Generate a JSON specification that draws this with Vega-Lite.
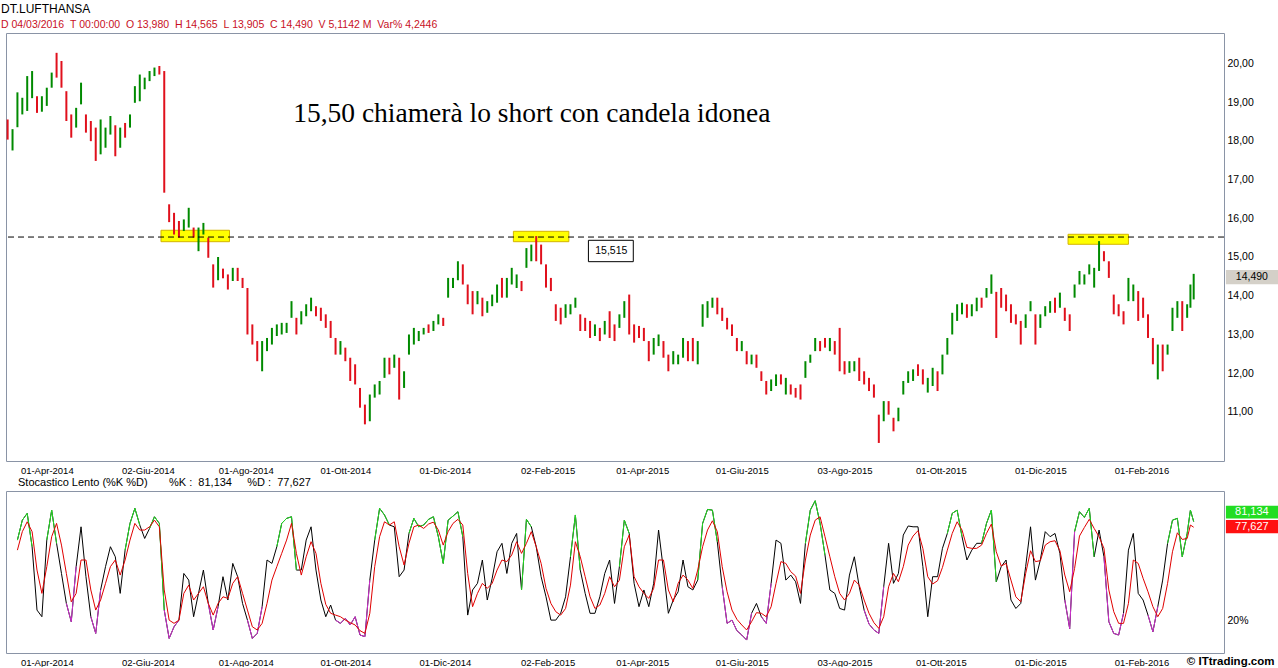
{
"$schema":"https://vega.github.io/schema/vega-lite/v6.json",
"background":"white",
"padding":{"left":1,"top":3,"right":0,"bottom":0},
"config":{"font":"Liberation Sans","view":{"stroke":"#8a94a6","strokeWidth":1},"axis":{"domain":false,"ticks":false,"grid":false,"labelColor":"#000","labelFont":"Liberation Sans"}},
"title":{"text":"DT.LUFTHANSA","subtitle":"D\u00a004/03/2016\u00a0\u00a0T\u00a000:00:00\u00a0\u00a0O\u00a013,980\u00a0\u00a0H\u00a014,565\u00a0\u00a0L\u00a013,905\u00a0\u00a0C\u00a014,490\u00a0\u00a0V\u00a05,1142\u00a0M\u00a0\u00a0Var%\u00a04,2446","anchor":"start","dx":-4,"font":"Liberation Sans","fontSize":12,"fontWeight":"normal","color":"#000","subtitleFont":"Liberation Sans","subtitleFontSize":10.5,"subtitleColor":"#c8101e","subtitlePadding":4,"offset":1},
"datasets":{
"zones":[{"d1":"2014-06-10","d2":"2014-07-22","p1":15.395,"p2":15.69},{"d1":"2015-01-12","d2":"2015-02-15","p1":15.395,"p2":15.663},{"d1":"2015-12-18","d2":"2016-01-24","p1":15.328,"p2":15.586}],
"bars":[
{"date":"2014-03-08","o":18.5,"h":18.55,"l":18.03,"c":18.13},
{"date":"2014-03-11","o":17.85,"h":18.3,"l":17.75,"c":18.25},
{"date":"2014-03-14","o":18.45,"h":19.25,"l":18.35,"c":19.2,"k":69.7,"d":63.5},
{"date":"2014-03-17","o":18.78,"h":19.11,"l":18.68,"c":19.06,"k":82.0,"d":74.9},
{"date":"2014-03-20","o":18.87,"h":19.67,"l":18.77,"c":19.62,"k":86.2,"d":81.0},
{"date":"2014-03-23","o":19.2,"h":19.8,"l":19.1,"c":19.75,"k":65.6,"d":74.9},
{"date":"2014-03-26","o":19.1,"h":19.15,"l":18.72,"c":18.82,"k":26.5,"d":51.2},
{"date":"2014-03-29","o":18.85,"h":19.15,"l":18.75,"c":19.1,"k":22.4,"d":36.8},
{"date":"2014-04-01","o":19.0,"h":19.37,"l":18.9,"c":19.32,"k":69.7,"d":53.3},
{"date":"2014-04-04","o":19.47,"h":19.76,"l":19.37,"c":19.71,"k":88.2,"d":71.8},
{"date":"2014-04-07","o":20.22,"h":20.27,"l":19.63,"c":19.73,"k":67.7,"d":80.0},
{"date":"2014-04-10","o":20.01,"h":20.06,"l":19.37,"c":19.47,"k":49.1,"d":66.6},
{"date":"2014-04-13","o":19.23,"h":19.28,"l":18.51,"c":18.61,"k":30.6,"d":49.1},
{"date":"2014-04-16","o":18.63,"h":18.68,"l":18.08,"c":18.18,"k":19.3,"d":31.6},
{"date":"2014-04-19","o":18.44,"h":18.85,"l":18.34,"c":18.8,"k":53.3,"d":36.8},
{"date":"2014-04-22","o":19.04,"h":19.5,"l":18.94,"c":19.45,"k":77.9,"d":57.4},
{"date":"2014-04-25","o":18.63,"h":18.68,"l":18.21,"c":18.31,"k":47.1,"d":57.4},
{"date":"2014-04-28","o":18.46,"h":18.51,"l":17.99,"c":18.09,"k":22.4,"d":38.9},
{"date":"2014-05-01","o":18.29,"h":18.34,"l":17.48,"c":17.58,"k":12.1,"d":26.5},
{"date":"2014-05-04","o":17.75,"h":18.55,"l":17.65,"c":18.5,"k":38.9,"d":32.7},
{"date":"2014-05-07","o":17.92,"h":18.34,"l":17.82,"c":18.29,"k":53.3,"d":43.0},
{"date":"2014-05-10","o":18.26,"h":18.64,"l":18.16,"c":18.59,"k":65.6,"d":53.3},
{"date":"2014-05-13","o":18.35,"h":18.4,"l":17.6,"c":17.7,"k":59.4,"d":57.4},
{"date":"2014-05-16","o":17.92,"h":18.34,"l":17.82,"c":18.29,"k":36.8,"d":48.1},
{"date":"2014-05-19","o":18.41,"h":18.46,"l":18.08,"c":18.18,"k":63.5,"d":57.4},
{"date":"2014-05-22","o":18.44,"h":18.68,"l":18.34,"c":18.63,"k":80.0,"d":69.7},
{"date":"2014-05-25","o":19.08,"h":19.41,"l":18.98,"c":19.36,"k":89.3,"d":80.0},
{"date":"2014-05-28","o":19.12,"h":19.71,"l":19.02,"c":19.66,"k":79.0,"d":75.9},
{"date":"2014-05-31","o":19.43,"h":19.63,"l":19.33,"c":19.58,"k":70.7,"d":75.9},
{"date":"2014-06-03","o":19.64,"h":19.8,"l":19.54,"c":19.75,"k":76.9,"d":77.9},
{"date":"2014-06-06","o":19.77,"h":19.89,"l":19.67,"c":19.84,"k":84.1,"d":82.0},
{"date":"2014-06-09","o":19.88,"h":19.93,"l":19.71,"c":19.81,"k":80.0,"d":77.9},
{"date":"2014-06-12","o":19.75,"h":19.8,"l":16.66,"c":16.76,"k":26.5,"d":38.9},
{"date":"2014-06-15","o":16.31,"h":16.36,"l":15.9,"c":16.0,"k":9.0,"d":20.3},
{"date":"2014-06-18","o":16.09,"h":16.14,"l":15.58,"c":15.68,"k":16.2,"d":18.3},
{"date":"2014-06-21","o":15.88,"h":15.93,"l":15.5,"c":15.6,"k":20.3,"d":20.3},
{"date":"2014-06-24","o":15.77,"h":15.97,"l":15.67,"c":15.92,"k":49.1,"d":36.8},
{"date":"2014-06-27","o":15.86,"h":16.27,"l":15.76,"c":16.22,"k":45.0,"d":41.9},
{"date":"2014-06-30","o":15.71,"h":15.76,"l":15.5,"c":15.6,"k":22.4,"d":32.7},
{"date":"2014-07-03","o":15.25,"h":15.76,"l":15.15,"c":15.71,"k":36.8,"d":36.8},
{"date":"2014-07-06","o":15.68,"h":15.88,"l":15.58,"c":15.83,"k":51.2,"d":40.9},
{"date":"2014-07-09","o":15.45,"h":15.5,"l":14.98,"c":15.08,"k":30.6,"d":30.6},
{"date":"2014-07-12","o":14.76,"h":14.81,"l":14.21,"c":14.31,"k":14.2,"d":23.4},
{"date":"2014-07-15","o":14.5,"h":15.0,"l":14.4,"c":14.95,"k":28.6,"d":30.6},
{"date":"2014-07-18","o":14.65,"h":14.7,"l":14.45,"c":14.55,"k":47.1,"d":34.7},
{"date":"2014-07-21","o":14.5,"h":14.55,"l":14.16,"c":14.26,"k":32.7,"d":33.7},
{"date":"2014-07-24","o":14.48,"h":14.72,"l":14.38,"c":14.67,"k":55.3,"d":43.0},
{"date":"2014-07-27","o":14.67,"h":14.72,"l":14.38,"c":14.48,"k":47.1,"d":47.1},
{"date":"2014-07-30","o":14.41,"h":14.46,"l":14.2,"c":14.3,"k":30.6,"d":36.8},
{"date":"2014-08-02","o":14.15,"h":14.2,"l":13.0,"c":13.1,"k":20.3,"d":26.5},
{"date":"2014-08-05","o":13.21,"h":13.26,"l":12.74,"c":12.84,"k":9.0,"d":16.2},
{"date":"2014-08-08","o":12.78,"h":12.83,"l":12.31,"c":12.41,"k":12.1,"d":14.2},
{"date":"2014-08-11","o":12.15,"h":12.83,"l":12.05,"c":12.78,"k":28.6,"d":18.3},
{"date":"2014-08-14","o":12.67,"h":12.91,"l":12.57,"c":12.86,"k":57.4,"d":30.6},
{"date":"2014-08-17","o":12.84,"h":13.17,"l":12.74,"c":13.12,"k":55.3,"d":45.0},
{"date":"2014-08-20","o":13.06,"h":13.26,"l":12.96,"c":13.21,"k":65.6,"d":53.3},
{"date":"2014-08-23","o":13.1,"h":13.3,"l":13.0,"c":13.25,"k":80.0,"d":61.5},
{"date":"2014-08-26","o":13.14,"h":13.3,"l":13.04,"c":13.25,"k":83.1,"d":69.7},
{"date":"2014-08-29","o":13.53,"h":13.86,"l":13.43,"c":13.81,"k":84.1,"d":80.0},
{"date":"2014-09-01","o":13.38,"h":13.43,"l":13.0,"c":13.1,"k":51.2,"d":61.5},
{"date":"2014-09-04","o":13.36,"h":13.6,"l":13.26,"c":13.55,"k":51.2,"d":48.1},
{"date":"2014-09-07","o":13.57,"h":13.78,"l":13.47,"c":13.73,"k":69.7,"d":59.4},
{"date":"2014-09-10","o":13.7,"h":13.95,"l":13.6,"c":13.9,"k":77.9,"d":68.7},
{"date":"2014-09-13","o":13.68,"h":13.73,"l":13.47,"c":13.57,"k":51.2,"d":61.5},
{"date":"2014-09-16","o":13.64,"h":13.69,"l":13.35,"c":13.45,"k":32.7,"d":43.0},
{"date":"2014-09-19","o":13.47,"h":13.52,"l":13.17,"c":13.27,"k":22.4,"d":30.0},
{"date":"2014-09-22","o":13.3,"h":13.35,"l":12.91,"c":13.01,"k":29.6,"d":24.5},
{"date":"2014-09-25","o":12.86,"h":12.91,"l":12.48,"c":12.58,"k":20.3,"d":23.4},
{"date":"2014-09-28","o":12.58,"h":12.83,"l":12.48,"c":12.78,"k":18.3,"d":22.4},
{"date":"2014-10-01","o":12.61,"h":12.66,"l":12.31,"c":12.41,"k":21.4,"d":20.3},
{"date":"2014-10-04","o":12.35,"h":12.4,"l":11.8,"c":11.9,"k":17.3,"d":18.7},
{"date":"2014-10-07","o":12.18,"h":12.23,"l":11.71,"c":11.81,"k":22.4,"d":17.3},
{"date":"2014-10-10","o":11.57,"h":11.62,"l":11.11,"c":11.21,"k":11.1,"d":13.8},
{"date":"2014-10-13","o":11.14,"h":11.19,"l":10.68,"c":10.78,"k":10.1,"d":12.1},
{"date":"2014-10-16","o":10.86,"h":11.45,"l":10.76,"c":11.4,"k":45.0,"d":24.5},
{"date":"2014-10-19","o":11.47,"h":11.71,"l":11.37,"c":11.66,"k":69.7,"d":53.3},
{"date":"2014-10-22","o":11.55,"h":11.8,"l":11.45,"c":11.75,"k":89.3,"d":71.8},
{"date":"2014-10-25","o":11.98,"h":12.4,"l":11.88,"c":12.35,"k":85.2,"d":81.0},
{"date":"2014-10-28","o":12.35,"h":12.4,"l":11.97,"c":12.07,"k":79.0,"d":79.0},
{"date":"2014-10-31","o":12.24,"h":12.48,"l":12.14,"c":12.43,"k":77.9,"d":81.0},
{"date":"2014-11-03","o":12.35,"h":12.4,"l":11.32,"c":11.42,"k":47.1,"d":65.6},
{"date":"2014-11-06","o":11.72,"h":12.05,"l":11.62,"c":12.0,"k":51.2,"d":54.3},
{"date":"2014-11-09","o":12.58,"h":13.0,"l":12.48,"c":12.95,"k":73.8,"d":67.7},
{"date":"2014-11-12","o":12.84,"h":13.17,"l":12.74,"c":13.12,"k":83.1,"d":77.9},
{"date":"2014-11-15","o":12.93,"h":13.09,"l":12.83,"c":13.04,"k":77.9,"d":79.0},
{"date":"2014-11-18","o":13.05,"h":13.17,"l":13.0,"c":13.14,"k":79.0,"d":76.9},
{"date":"2014-11-21","o":13.21,"h":13.26,"l":13.04,"c":13.09,"k":82.5,"d":79.6},
{"date":"2014-11-24","o":13.14,"h":13.35,"l":13.09,"c":13.3,"k":84.1,"d":80.8},
{"date":"2014-11-27","o":13.31,"h":13.52,"l":13.26,"c":13.47,"k":71.8,"d":75.9},
{"date":"2014-11-30","o":13.38,"h":13.43,"l":13.22,"c":13.27,"k":55.3,"d":66.6},
{"date":"2014-12-03","o":14.05,"h":14.46,"l":13.95,"c":14.41,"k":82.0,"d":74.9},
{"date":"2014-12-06","o":14.25,"h":14.46,"l":14.2,"c":14.41,"k":84.5,"d":80.0},
{"date":"2014-12-09","o":14.5,"h":14.89,"l":14.4,"c":14.84,"k":87.2,"d":82.5},
{"date":"2014-12-12","o":14.76,"h":14.81,"l":14.29,"c":14.39,"k":71.8,"d":79.0},
{"date":"2014-12-15","o":14.24,"h":14.29,"l":13.78,"c":13.88,"k":23.4,"d":49.1},
{"date":"2014-12-18","o":14.07,"h":14.12,"l":13.52,"c":13.62,"k":38.9,"d":28.6},
{"date":"2014-12-21","o":13.88,"h":14.12,"l":13.78,"c":14.07,"k":43.0,"d":36.8},
{"date":"2014-12-24","o":13.9,"h":13.95,"l":13.47,"c":13.57,"k":57.4,"d":43.0},
{"date":"2014-12-27","o":13.66,"h":13.86,"l":13.56,"c":13.81,"k":32.7,"d":39.9},
{"date":"2014-12-30","o":13.83,"h":14.03,"l":13.73,"c":13.98,"k":46.1,"d":43.0},
{"date":"2015-01-02","o":13.92,"h":14.29,"l":13.82,"c":14.24,"k":62.5,"d":51.2},
{"date":"2015-01-05","o":14.41,"h":14.46,"l":13.95,"c":14.05,"k":67.7,"d":57.4},
{"date":"2015-01-08","o":14.05,"h":14.46,"l":13.95,"c":14.41,"k":49.1,"d":56.4},
{"date":"2015-01-11","o":14.39,"h":14.72,"l":14.29,"c":14.67,"k":67.7,"d":60.5},
{"date":"2015-01-14","o":14.3,"h":14.55,"l":14.2,"c":14.5,"k":73.8,"d":68.7},
{"date":"2015-01-17","o":14.33,"h":14.38,"l":14.12,"c":14.22,"k":38.9,"d":61.5},
{"date":"2015-01-20","o":14.82,"h":15.23,"l":14.72,"c":15.18,"k":82.5,"d":67.7},
{"date":"2015-01-23","o":14.99,"h":15.32,"l":14.89,"c":15.27,"k":77.9,"d":74.9},
{"date":"2015-01-26","o":15.49,"h":15.54,"l":14.89,"c":14.99,"k":65.6,"d":65.6},
{"date":"2015-01-29","o":15.27,"h":15.32,"l":14.81,"c":14.91,"k":47.1,"d":55.3},
{"date":"2015-02-01","o":14.76,"h":14.81,"l":14.21,"c":14.31,"k":34.7,"d":39.9},
{"date":"2015-02-04","o":14.41,"h":14.46,"l":14.12,"c":14.22,"k":20.3,"d":30.6},
{"date":"2015-02-07","o":13.73,"h":13.78,"l":13.35,"c":13.45,"k":20.3,"d":25.5},
{"date":"2015-02-10","o":13.64,"h":13.69,"l":13.26,"c":13.36,"k":24.5,"d":23.4},
{"date":"2015-02-13","o":13.53,"h":13.78,"l":13.43,"c":13.73,"k":34.7,"d":27.5},
{"date":"2015-02-16","o":13.62,"h":13.78,"l":13.52,"c":13.73,"k":59.4,"d":41.9},
{"date":"2015-02-19","o":13.79,"h":13.95,"l":13.69,"c":13.9,"k":85.2,"d":68.7},
{"date":"2015-02-22","o":13.47,"h":13.52,"l":13.09,"c":13.19,"k":51.2,"d":59.4},
{"date":"2015-02-25","o":13.38,"h":13.43,"l":13.09,"c":13.19,"k":36.8,"d":47.1},
{"date":"2015-02-28","o":13.3,"h":13.35,"l":12.91,"c":13.01,"k":24.5,"d":34.7},
{"date":"2015-03-03","o":13.06,"h":13.26,"l":12.96,"c":13.21,"k":24.5,"d":27.5},
{"date":"2015-03-06","o":13.12,"h":13.17,"l":12.83,"c":12.93,"k":34.7,"d":29.6},
{"date":"2015-03-09","o":13.1,"h":13.35,"l":13.0,"c":13.3,"k":49.1,"d":36.8},
{"date":"2015-03-12","o":13.55,"h":13.6,"l":12.91,"c":13.01,"k":57.4,"d":47.1},
{"date":"2015-03-15","o":13.21,"h":13.26,"l":12.83,"c":12.93,"k":30.6,"d":40.9},
{"date":"2015-03-18","o":13.27,"h":13.52,"l":13.17,"c":13.47,"k":53.3,"d":45.0},
{"date":"2015-03-21","o":13.53,"h":13.86,"l":13.43,"c":13.81,"k":82.0,"d":65.6},
{"date":"2015-03-24","o":13.98,"h":14.03,"l":13.0,"c":13.1,"k":73.8,"d":72.8},
{"date":"2015-03-27","o":13.21,"h":13.26,"l":12.79,"c":12.89,"k":43.0,"d":47.1},
{"date":"2015-03-30","o":13.17,"h":13.22,"l":12.91,"c":13.01,"k":28.6,"d":40.9},
{"date":"2015-04-02","o":13.12,"h":13.17,"l":12.83,"c":12.93,"k":38.9,"d":36.8},
{"date":"2015-04-05","o":12.78,"h":12.83,"l":12.31,"c":12.41,"k":28.6,"d":33.7},
{"date":"2015-04-08","o":12.58,"h":12.91,"l":12.48,"c":12.86,"k":43.0,"d":39.9},
{"date":"2015-04-11","o":12.8,"h":13.0,"l":12.7,"c":12.95,"k":75.9,"d":57.4},
{"date":"2015-04-14","o":12.78,"h":12.83,"l":12.4,"c":12.5,"k":51.2,"d":57.4},
{"date":"2015-04-17","o":12.43,"h":12.48,"l":12.05,"c":12.15,"k":24.5,"d":38.9},
{"date":"2015-04-20","o":12.33,"h":12.57,"l":12.23,"c":12.52,"k":32.7,"d":31.6},
{"date":"2015-04-23","o":12.33,"h":12.48,"l":12.23,"c":12.43,"k":37.8,"d":43.0},
{"date":"2015-04-26","o":12.5,"h":12.91,"l":12.4,"c":12.86,"k":57.4,"d":48.1},
{"date":"2015-04-29","o":12.78,"h":12.83,"l":12.31,"c":12.41,"k":40.9,"d":45.0},
{"date":"2015-05-02","o":12.86,"h":12.91,"l":12.31,"c":12.41,"k":38.9,"d":39.9},
{"date":"2015-05-05","o":12.33,"h":12.83,"l":12.23,"c":12.78,"k":45.0,"d":51.2},
{"date":"2015-05-08","o":13.3,"h":13.78,"l":13.2,"c":13.73,"k":80.0,"d":65.6},
{"date":"2015-05-11","o":13.53,"h":13.86,"l":13.43,"c":13.81,"k":88.6,"d":75.9},
{"date":"2015-05-14","o":13.79,"h":13.95,"l":13.69,"c":13.9,"k":88.2,"d":81.6},
{"date":"2015-05-17","o":13.9,"h":13.95,"l":13.52,"c":13.62,"k":68.7,"d":74.9},
{"date":"2015-05-20","o":13.64,"h":13.69,"l":13.35,"c":13.45,"k":40.9,"d":53.3},
{"date":"2015-05-23","o":13.38,"h":13.43,"l":13.13,"c":13.23,"k":18.3,"d":37.8},
{"date":"2015-05-26","o":13.21,"h":13.26,"l":12.96,"c":13.06,"k":20.3,"d":26.5},
{"date":"2015-05-29","o":12.86,"h":12.91,"l":12.57,"c":12.67,"k":13.8,"d":20.8},
{"date":"2015-06-01","o":12.67,"h":12.83,"l":12.57,"c":12.78,"k":11.1,"d":17.3},
{"date":"2015-06-04","o":12.52,"h":12.57,"l":12.23,"c":12.33,"k":8.0,"d":14.2},
{"date":"2015-06-07","o":12.33,"h":12.48,"l":12.23,"c":12.43,"k":24.5,"d":19.3},
{"date":"2015-06-10","o":12.43,"h":12.48,"l":12.14,"c":12.24,"k":30.6,"d":24.9},
{"date":"2015-06-13","o":12.0,"h":12.05,"l":11.8,"c":11.9,"k":22.4,"d":24.5},
{"date":"2015-06-16","o":11.75,"h":11.8,"l":11.45,"c":11.55,"k":18.3,"d":22.4},
{"date":"2015-06-19","o":11.64,"h":11.84,"l":11.54,"c":11.79,"k":43.0,"d":28.6},
{"date":"2015-06-22","o":11.77,"h":11.97,"l":11.67,"c":11.92,"k":69.7,"d":43.0},
{"date":"2015-06-25","o":11.92,"h":11.97,"l":11.71,"c":11.81,"k":67.7,"d":56.4},
{"date":"2015-06-28","o":11.55,"h":11.88,"l":11.45,"c":11.83,"k":45.0,"d":55.3},
{"date":"2015-07-01","o":11.66,"h":11.71,"l":11.45,"c":11.55,"k":48.1,"d":50.2},
{"date":"2015-07-04","o":11.57,"h":11.62,"l":11.37,"c":11.47,"k":44.0,"d":47.5},
{"date":"2015-07-07","o":11.66,"h":11.71,"l":11.32,"c":11.42,"k":30.6,"d":36.8},
{"date":"2015-07-10","o":11.98,"h":12.31,"l":11.88,"c":12.26,"k":67.7,"d":57.4},
{"date":"2015-07-13","o":12.32,"h":12.48,"l":12.27,"c":12.43,"k":88.2,"d":72.8},
{"date":"2015-07-16","o":12.67,"h":12.91,"l":12.57,"c":12.86,"k":94.0,"d":82.0},
{"date":"2015-07-19","o":12.78,"h":12.83,"l":12.57,"c":12.67,"k":80.0,"d":84.1},
{"date":"2015-07-22","o":12.86,"h":12.91,"l":12.66,"c":12.76,"k":60.5,"d":71.8},
{"date":"2015-07-25","o":12.67,"h":12.91,"l":12.57,"c":12.86,"k":38.9,"d":59.4},
{"date":"2015-07-28","o":12.78,"h":12.83,"l":12.48,"c":12.58,"k":36.8,"d":47.1},
{"date":"2015-07-31","o":13.12,"h":13.17,"l":12.05,"c":12.15,"k":27.5,"d":36.8},
{"date":"2015-08-03","o":12.26,"h":12.31,"l":11.97,"c":12.07,"k":26.5,"d":32.7},
{"date":"2015-08-06","o":12.11,"h":12.31,"l":12.01,"c":12.26,"k":48.1,"d":36.8},
{"date":"2015-08-09","o":12.15,"h":12.31,"l":12.05,"c":12.26,"k":59.4,"d":45.0},
{"date":"2015-08-12","o":12.35,"h":12.4,"l":11.8,"c":11.9,"k":40.9,"d":41.9},
{"date":"2015-08-15","o":12.0,"h":12.05,"l":11.71,"c":11.81,"k":26.5,"d":32.7},
{"date":"2015-08-18","o":11.83,"h":11.88,"l":11.54,"c":11.64,"k":17.9,"d":24.5},
{"date":"2015-08-21","o":11.66,"h":11.71,"l":11.37,"c":11.47,"k":14.2,"d":18.7},
{"date":"2015-08-24","o":10.88,"h":10.93,"l":10.2,"c":10.3,"k":12.1,"d":15.2},
{"date":"2015-08-27","o":10.86,"h":11.28,"l":10.76,"c":11.23,"k":40.9,"d":22.4},
{"date":"2015-08-30","o":11.23,"h":11.28,"l":10.93,"c":11.03,"k":67.7,"d":40.9},
{"date":"2015-09-02","o":10.8,"h":10.85,"l":10.5,"c":10.6,"k":43.0,"d":49.1},
{"date":"2015-09-05","o":10.86,"h":11.11,"l":10.76,"c":11.06,"k":49.1,"d":44.0},
{"date":"2015-09-08","o":11.55,"h":11.8,"l":11.45,"c":11.75,"k":72.8,"d":53.3},
{"date":"2015-09-11","o":11.85,"h":12.05,"l":11.75,"c":12.0,"k":78.4,"d":66.6},
{"date":"2015-09-14","o":11.9,"h":12.1,"l":11.8,"c":12.05,"k":77.9,"d":72.2},
{"date":"2015-09-17","o":12.18,"h":12.23,"l":11.93,"c":12.03,"k":77.9,"d":75.5},
{"date":"2015-09-20","o":12.05,"h":12.1,"l":11.71,"c":11.81,"k":53.3,"d":64.5},
{"date":"2015-09-23","o":11.6,"h":11.88,"l":11.5,"c":11.83,"k":22.4,"d":47.1},
{"date":"2015-09-26","o":11.77,"h":12.14,"l":11.67,"c":12.09,"k":47.1,"d":42.6},
{"date":"2015-09-29","o":12.0,"h":12.05,"l":11.54,"c":11.64,"k":47.1,"d":44.6},
{"date":"2015-10-02","o":12.07,"h":12.48,"l":11.97,"c":12.43,"k":64.6,"d":52.8},
{"date":"2015-10-05","o":12.58,"h":12.91,"l":12.48,"c":12.86,"k":73.8,"d":63.5},
{"date":"2015-10-08","o":13.1,"h":13.56,"l":13.0,"c":13.51,"k":86.2,"d":73.8},
{"date":"2015-10-11","o":13.45,"h":13.78,"l":13.35,"c":13.73,"k":88.2,"d":81.0},
{"date":"2015-10-14","o":13.62,"h":13.82,"l":13.52,"c":13.77,"k":71.8,"d":75.9},
{"date":"2015-10-17","o":13.73,"h":13.78,"l":13.43,"c":13.53,"k":57.4,"d":65.2},
{"date":"2015-10-20","o":13.57,"h":13.78,"l":13.47,"c":13.73,"k":63.5,"d":64.6},
{"date":"2015-10-23","o":13.7,"h":13.95,"l":13.6,"c":13.9,"k":67.7,"d":64.6},
{"date":"2015-10-26","o":13.9,"h":13.95,"l":13.69,"c":13.79,"k":67.7,"d":66.6},
{"date":"2015-10-29","o":14.05,"h":14.2,"l":13.95,"c":14.15,"k":80.0,"d":73.8},
{"date":"2015-11-01","o":14.15,"h":14.55,"l":14.05,"c":14.5,"k":88.2,"d":79.6},
{"date":"2015-11-04","o":14.05,"h":14.1,"l":12.91,"c":13.01,"k":43.9,"d":62.5},
{"date":"2015-11-07","o":14.15,"h":14.2,"l":13.69,"c":13.79,"k":53.3,"d":53.7},
{"date":"2015-11-10","o":13.98,"h":14.03,"l":13.6,"c":13.7,"k":57.4,"d":55.3},
{"date":"2015-11-13","o":13.73,"h":13.78,"l":13.3,"c":13.4,"k":32.7,"d":45.0},
{"date":"2015-11-16","o":13.47,"h":13.52,"l":13.26,"c":13.36,"k":27.5,"d":34.7},
{"date":"2015-11-19","o":13.3,"h":13.35,"l":12.74,"c":12.84,"k":30.6,"d":31.6},
{"date":"2015-11-22","o":13.27,"h":13.52,"l":13.17,"c":13.47,"k":53.3,"d":49.0},
{"date":"2015-11-25","o":13.7,"h":13.86,"l":13.6,"c":13.81,"k":77.9,"d":63.1},
{"date":"2015-11-28","o":13.47,"h":13.52,"l":12.74,"c":12.84,"k":45.0,"d":56.4},
{"date":"2015-12-01","o":13.27,"h":13.52,"l":13.17,"c":13.47,"k":57.4,"d":57.0},
{"date":"2015-12-04","o":13.57,"h":13.73,"l":13.47,"c":13.68,"k":74.9,"d":66.6},
{"date":"2015-12-07","o":13.66,"h":13.86,"l":13.56,"c":13.81,"k":71.8,"d":68.7},
{"date":"2015-12-10","o":13.9,"h":13.95,"l":13.56,"c":13.66,"k":73.8,"d":69.3},
{"date":"2015-12-13","o":13.79,"h":14.08,"l":13.69,"c":14.03,"k":61.5,"d":63.1},
{"date":"2015-12-16","o":13.64,"h":13.69,"l":13.35,"c":13.45,"k":32.7,"d":48.1},
{"date":"2015-12-19","o":13.47,"h":13.52,"l":13.09,"c":13.19,"k":15.0,"d":37.8},
{"date":"2015-12-22","o":14.05,"h":14.29,"l":13.95,"c":14.24,"k":74.9,"d":52.2},
{"date":"2015-12-25","o":14.39,"h":14.64,"l":14.29,"c":14.59,"k":87.2,"d":72.2},
{"date":"2015-12-28","o":14.39,"h":14.55,"l":14.29,"c":14.5,"k":83.7,"d":77.5},
{"date":"2015-12-31","o":14.65,"h":14.81,"l":14.55,"c":14.76,"k":89.3,"d":82.5},
{"date":"2016-01-03","o":14.31,"h":14.72,"l":14.21,"c":14.67,"k":59.4,"d":76.9},
{"date":"2016-01-06","o":14.74,"h":15.41,"l":14.64,"c":15.36,"k":75.9,"d":71.8},
{"date":"2016-01-09","o":15.1,"h":15.15,"l":14.89,"c":14.99,"k":59.4,"d":64.6},
{"date":"2016-01-12","o":14.84,"h":14.89,"l":14.46,"c":14.56,"k":19.3,"d":38.9},
{"date":"2016-01-15","o":13.98,"h":14.03,"l":13.52,"c":13.62,"k":12.1,"d":25.5},
{"date":"2016-01-18","o":13.73,"h":13.78,"l":13.47,"c":13.57,"k":11.1,"d":18.3},
{"date":"2016-01-21","o":13.55,"h":13.6,"l":13.26,"c":13.36,"k":24.5,"d":18.3},
{"date":"2016-01-24","o":13.96,"h":14.46,"l":13.86,"c":14.41,"k":63.5,"d":30.6},
{"date":"2016-01-27","o":13.96,"h":14.29,"l":13.86,"c":14.24,"k":73.8,"d":57.4},
{"date":"2016-01-30","o":14.07,"h":14.12,"l":13.35,"c":13.45,"k":36.8,"d":55.3},
{"date":"2016-02-02","o":13.9,"h":13.95,"l":13.43,"c":13.53,"k":32.7,"d":46.1},
{"date":"2016-02-05","o":13.47,"h":13.52,"l":12.91,"c":13.01,"k":23.4,"d":37.8},
{"date":"2016-02-08","o":12.86,"h":12.91,"l":12.23,"c":12.33,"k":13.1,"d":28.6},
{"date":"2016-02-11","o":11.94,"h":12.74,"l":11.84,"c":12.69,"k":28.6,"d":22.4},
{"date":"2016-02-14","o":12.69,"h":12.74,"l":12.05,"c":12.15,"k":45.0,"d":27.5},
{"date":"2016-02-17","o":12.58,"h":12.74,"l":12.48,"c":12.69,"k":67.7,"d":43.0},
{"date":"2016-02-20","o":13.19,"h":13.69,"l":13.09,"c":13.64,"k":82.0,"d":62.5},
{"date":"2016-02-23","o":13.53,"h":13.86,"l":13.43,"c":13.81,"k":83.1,"d":74.2},
{"date":"2016-02-26","o":13.81,"h":13.86,"l":13.09,"c":13.19,"k":59.4,"d":70.1},
{"date":"2016-02-29","o":13.53,"h":13.78,"l":13.43,"c":13.73,"k":73.8,"d":70.7},
{"date":"2016-03-02","o":13.79,"h":14.29,"l":13.69,"c":14.24,"k":88.2,"d":79.0},
{"date":"2016-03-04","o":13.98,"h":14.565,"l":13.905,"c":14.49,"k":81.134,"d":77.627}
]},
"spacing":1,
"vconcat":[
{"width":1218,"height":428,
"layer":[
{"data":{"name":"zones"},"mark":{"type":"rect","fill":"#ffff00","stroke":"#d4b400","strokeWidth":1},
 "encoding":{"x":{"field":"d1","type":"temporal"},"x2":{"field":"d2"},"y":{"field":"p1","type":"quantitative"},"y2":{"field":"p2"}}},
{"data":{"name":"bars"},"mark":{"type":"rule","strokeWidth":2},
 "encoding":{
  "x":{"field":"date","type":"temporal","scale":{"domain":[{"year":2014,"month":3,"date":7},{"year":2016,"month":3,"date":22,"hours":14}]},
   "axis":{"orient":"bottom","title":null,"values":[{"year":2014,"month":4,"date":1},{"year":2014,"month":6,"date":2},{"year":2014,"month":8,"date":1},{"year":2014,"month":10,"date":1},{"year":2014,"month":12,"date":1},{"year":2015,"month":2,"date":2},{"year":2015,"month":4,"date":1},{"year":2015,"month":6,"date":1},{"year":2015,"month":8,"date":3},{"year":2015,"month":10,"date":1},{"year":2015,"month":12,"date":1},{"year":2016,"month":2,"date":1}],
   "labelExpr":"timeFormat(datum.value,'%d') + '-' + ['Gen','Feb','Mar','Apr','Mag','Giu','Lug','Ago','Set','Ott','Nov','Dic'][month(datum.value)] + '-' + timeFormat(datum.value,'%Y')",
   "labelFontSize":9.5,"labelPadding":4,"labelOverlap":false,"labelFlush":false}},
  "y":{"field":"l","type":"quantitative","scale":{"domain":[9.734,20.782],"nice":false,"zero":false},
   "axis":{"orient":"right","title":null,"values":[11,12,13,14,15,16,17,18,19,20],"labelExpr":"replace(format(datum.value,'.2f'),'.',',')","labelFontSize":10.5,"labelPadding":3}},
  "y2":{"field":"h"},
  "color":{"condition":{"test":"datum.c >= datum.o","value":"#008a00"},"value":"#e0101c"}}},
{"data":{"values":[{"level":15.515}]},"mark":{"type":"rule","strokeDash":[6,4],"color":"#000","strokeWidth":1},"encoding":{"y":{"field":"level","type":"quantitative"}}},
{"data":{"values":[{"note":"15,50 chiamerà lo short con candela idonea"}]},"mark":{"type":"text","font":"Liberation Serif","fontSize":27.5,"align":"left","baseline":"alphabetic","color":"#000"},
 "encoding":{"x":{"datum":{"year":2014,"month":8,"date":30}},"y":{"datum":18.49},"text":{"field":"note"}}},
{"data":{"values":[{"v":"15,515"}]},"mark":{"type":"rect","fill":"#ffffff","stroke":"#000","strokeWidth":1},
 "encoding":{"x":{"datum":{"year":2015,"month":2,"date":27}},"x2":{"datum":{"year":2015,"month":3,"date":26,"hours":12}},"y":{"datum":14.879},"y2":{"datum":15.431}}},
{"data":{"values":[{"v":"15,515"}]},"mark":{"type":"text","fontSize":10.5,"align":"center","baseline":"middle","color":"#000"},
 "encoding":{"x":{"datum":{"year":2015,"month":3,"date":13}},"y":{"datum":15.155},"text":{"field":"v"}}},
{"data":{"values":[{"v":"14,490"}]},"mark":{"type":"rect","fill":"#d4d0c8"},
 "encoding":{"x":{"datum":{"year":2016,"month":3,"date":23,"hours":18}},"x2":{"datum":{"year":2016,"month":4,"date":25}},"y":{"datum":14.295},"y2":{"datum":14.664}}},
{"data":{"values":[{"v":"14,490"}]},"mark":{"type":"text","fontSize":10.5,"align":"center","baseline":"middle","color":"#000"},
 "encoding":{"x":{"datum":{"year":2016,"month":4,"date":8,"hours":16}},"y":{"datum":14.49},"text":{"field":"v"}}}
]},
{"width":1218,"height":162,
"title":{"text":"Stocastico Lento (%K %D)\u00a0\u00a0\u00a0\u00a0\u00a0\u00a0\u00a0%K :\u00a0\u00a081,134\u00a0\u00a0\u00a0\u00a0\u00a0%D :\u00a0\u00a077,627","anchor":"start","dx":12,"font":"Liberation Sans","fontSize":11,"fontWeight":"normal","color":"#000","offset":3},
"layer":[
{"data":{"name":"bars"},"transform":[{"filter":"isValid(datum.k)"}],"mark":{"type":"line","color":"#000","strokeWidth":1},
 "encoding":{
  "x":{"field":"date","type":"temporal","scale":{"domain":[{"year":2014,"month":3,"date":7},{"year":2016,"month":3,"date":22,"hours":14}]},
   "axis":{"orient":"bottom","values":[{"year":2014,"month":4,"date":1},{"year":2014,"month":6,"date":2},{"year":2014,"month":8,"date":1},{"year":2014,"month":10,"date":1},{"year":2014,"month":12,"date":1},{"year":2015,"month":2,"date":2},{"year":2015,"month":4,"date":1},{"year":2015,"month":6,"date":1},{"year":2015,"month":8,"date":3},{"year":2015,"month":10,"date":1},{"year":2015,"month":12,"date":1},{"year":2016,"month":2,"date":1}],
   "labelExpr":"timeFormat(datum.value,'%d') + '-' + ['Gen','Feb','Mar','Apr','Mag','Giu','Lug','Ago','Set','Ott','Nov','Dic'][month(datum.value)] + '-' + timeFormat(datum.value,'%Y')",
   "labelFontSize":9.5,"labelPadding":4,"labelOverlap":false,"labelFlush":false,
   "title":"© ITtrading.com","titleX":1268,"titleY":8,"titleAlign":"right","titleBaseline":"middle","titleFont":"Liberation Sans","titleFontSize":11.5,"titleFontWeight":"bold","titleColor":"#000"}},
  "y":{"field":"k","type":"quantitative","scale":{"domain":[0,100],"nice":false,"zero":false},
   "axis":{"orient":"right","title":null,"values":[20],"labelExpr":"datum.value + '%'","labelFontSize":10.5,"labelPadding":3}}}},
{"data":{"name":"bars"},"transform":[{"filter":"isValid(datum.k)"},{"window":[{"op":"lag","field":"k","as":"kp"},{"op":"lead","field":"k","as":"kn"}],"sort":[{"field":"date"}]},{"calculate":"(datum.k >= 80 || datum.kp >= 80 || datum.kn >= 80) ? datum.k : null","as":"kg"}],
 "mark":{"type":"line","color":"#22e022","strokeWidth":1,"invalid":"break-paths-filter-domains"},
 "encoding":{"x":{"field":"date","type":"temporal"},"y":{"field":"kg","type":"quantitative"}}},
{"data":{"name":"bars"},"transform":[{"filter":"isValid(datum.k)"},{"window":[{"op":"lag","field":"k","as":"kp"},{"op":"lead","field":"k","as":"kn"}],"sort":[{"field":"date"}]},{"calculate":"(datum.k <= 20 || (isValid(datum.kp) && datum.kp <= 20) || (isValid(datum.kn) && datum.kn <= 20)) ? datum.k : null","as":"km"}],
 "mark":{"type":"line","color":"#d030d0","strokeWidth":1,"invalid":"break-paths-filter-domains"},
 "encoding":{"x":{"field":"date","type":"temporal"},"y":{"field":"km","type":"quantitative"}}},
{"data":{"name":"bars"},"transform":[{"filter":"isValid(datum.d)"}],"mark":{"type":"line","color":"#e00000","strokeWidth":1},
 "encoding":{"x":{"field":"date","type":"temporal"},"y":{"field":"d","type":"quantitative"}}},
{"data":{"values":[{"v":"81,134"}]},"mark":{"type":"rect","fill":"#22dd22"},
 "encoding":{"x":{"datum":{"year":2016,"month":3,"date":23,"hours":18}},"x2":{"datum":{"year":2016,"month":4,"date":25}},"y":{"datum":83.1},"y2":{"datum":90.9}}},
{"data":{"values":[{"v":"81,134"}]},"mark":{"type":"text","fontSize":11,"align":"center","baseline":"middle","color":"#ffffff"},
 "encoding":{"x":{"datum":{"year":2016,"month":4,"date":8,"hours":16}},"y":{"datum":87},"text":{"field":"v"}}},
{"data":{"values":[{"v":"77,627"}]},"mark":{"type":"rect","fill":"#ff1010"},
 "encoding":{"x":{"datum":{"year":2016,"month":3,"date":23,"hours":18}},"x2":{"datum":{"year":2016,"month":4,"date":25}},"y":{"datum":73.9},"y2":{"datum":82.1}}},
{"data":{"values":[{"v":"77,627"}]},"mark":{"type":"text","fontSize":11,"align":"center","baseline":"middle","color":"#ffffff"},
 "encoding":{"x":{"datum":{"year":2016,"month":4,"date":8,"hours":16}},"y":{"datum":78},"text":{"field":"v"}}}
]}
]
}
